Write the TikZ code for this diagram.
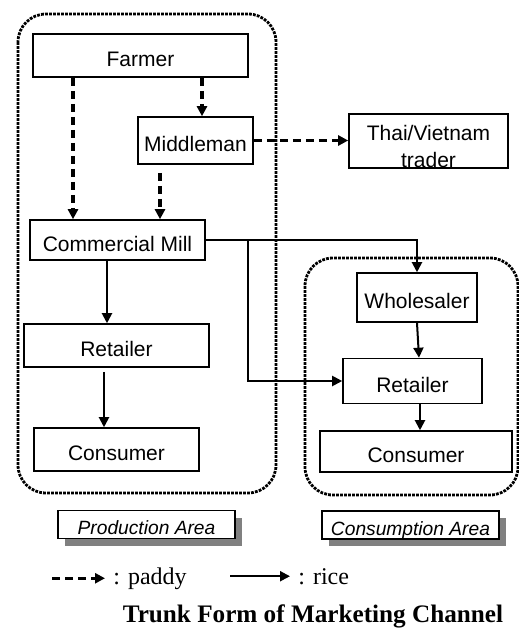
\documentclass[tikz,border=0pt]{standalone}
\usepackage{fontspec}
\setmainfont{Liberation Serif}
\setsansfont{Liberation Sans}
\usetikzlibrary{arrows.meta,calc,shadows}
\definecolor{shadowgray}{RGB}{128,128,128}

\begin{document}
\begin{tikzpicture}[x=0.5pt, y=-0.5pt,
        box/.style={draw, line width=0.8pt, inner sep=2pt, font=\sffamily\fontsize{10.5}{13.5}\selectfont, text height=11pt, text depth=0pt},
        area/.style={line width=1.4pt, dash pattern=on 1.4pt off 0.6pt, rounded corners=14pt},
        tag/.style={draw, line width=0.8pt, fill=white, inner sep=2pt, font=\sffamily\itshape\fontsize{9.6}{11.4}\selectfont, text height=10pt, text depth=0pt, drop shadow={shadow xshift=3.5pt, shadow yshift=-3.5pt, fill=shadowgray, opacity=1}},
        rice/.style={line width=1pt, -{Triangle[length=5pt,width=5pt]}},
        paddy/.style={line width=1.6pt, dash pattern=on 4pt off 2.5pt, -{Triangle[length=5pt,width=5pt]}}]
        \useasboundingbox (0,0) rectangle (519,628);

        % Areas
        \draw[area] (18,14) rectangle (276,493);
        \draw[area] (305,258) rectangle (518,495);

        % Production side
        \node[box, minimum width=107.5pt, minimum height=21.5pt] (farmer) at (140.5,55.5) {Farmer};
        \node[box, minimum width=57.5pt, minimum height=23.5pt] (mid) at (195.5,140.5) {Middleman};
        \node[box, minimum width=87.5pt, minimum height=20pt] (cm) at (117.5,240) {Commercial Mill};
        \node[box, minimum width=92.5pt, minimum height=21.5pt] (retL) at (116.5,345.5) {Retailer};
        \node[box, minimum width=82.5pt, minimum height=21.5pt] (conL) at (116.5,449.5) {Consumer};

        % Trader
        \node[box, minimum width=79.5pt, minimum height=27pt] (thai) at (428.5,141) {};
        \node[font=\sffamily\fontsize{10.5}{13.5}\selectfont, align=center, inner sep=0pt] (thaitxt) at (428.5,146) {Thai/Vietnam\\trader};

        % Consumption side
        \node[box, minimum width=60pt, minimum height=24.5pt] (whole) at (417,297.5) {Wholesaler};
        \node[box, minimum width=69.5pt, minimum height=22.5pt] (retR) at (412.5,381) {Retailer};
        \node[box, minimum width=96pt, minimum height=20.5pt] (conR) at (416,451.5) {Consumer};

        % Area tags
        \node[tag, minimum width=88.5pt, minimum height=12.5pt] (prodtag) at (146.5,524.5) {Production Area};
        \node[tag, minimum width=88.5pt, minimum height=13pt] (constag) at (410.5,525) {Consumption Area};

        % Paddy
        \draw[paddy] ($(farmer.south)+(-67.5,0)$) coordinate (f1) -- (f1 |- cm.north);
        \draw[paddy] ($(farmer.south)+(61.5,0)$) coordinate (f2) -- (f2 |- mid.north);
        \draw[paddy, shorten <=4pt] ($(mid.south)+(-35.5,0)$) coordinate (m1) -- (m1 |- cm.north);
        \draw[paddy] (mid.east) -- (mid.east -| thai.west);

        % Rice
        \draw[rice] ($(cm.south)+(-10.5,0)$) coordinate (c1) -- (c1 |- retL.north);
        \draw[rice, shorten <=2pt] ($(retL.south)+(-12.5,0)$) coordinate (r1) -- (r1 |- conL.north);
        \draw[rice] (cm.east) -| (whole.north);
        \draw[rice] ($(cm.east)+(42,0)$) |- (retR.west);
        \draw[rice] (whole.south) -- ($(retR.north)+(6.5,0)$);
        \draw[rice] ($(retR.south)+(7.5,0)$) coordinate (r2) -- (r2 |- conR.north);

        % Legend
        \node[anchor=base west, inner sep=0pt, font=\fontsize{12}{14}\selectfont] (paddytxt) at (113,584) {: paddy};
        \node[anchor=base west, inner sep=0pt, font=\fontsize{12}{14}\selectfont] (ricetxt) at (298,584) {: rice};
        \draw[paddy] ($(paddytxt.west)+(-61,0)$) -- ($(paddytxt.west)+(-8,0)$);
        \draw[rice] ($(ricetxt.west)+(-68,0)$) -- ($(ricetxt.west)+(-8,0)$);

        % Title
        \node[anchor=base, font=\bfseries\fontsize{12.6}{15}\selectfont] (title) at (313,622) {Trunk Form of Marketing Channel};
    \end{tikzpicture}
\end{document}
